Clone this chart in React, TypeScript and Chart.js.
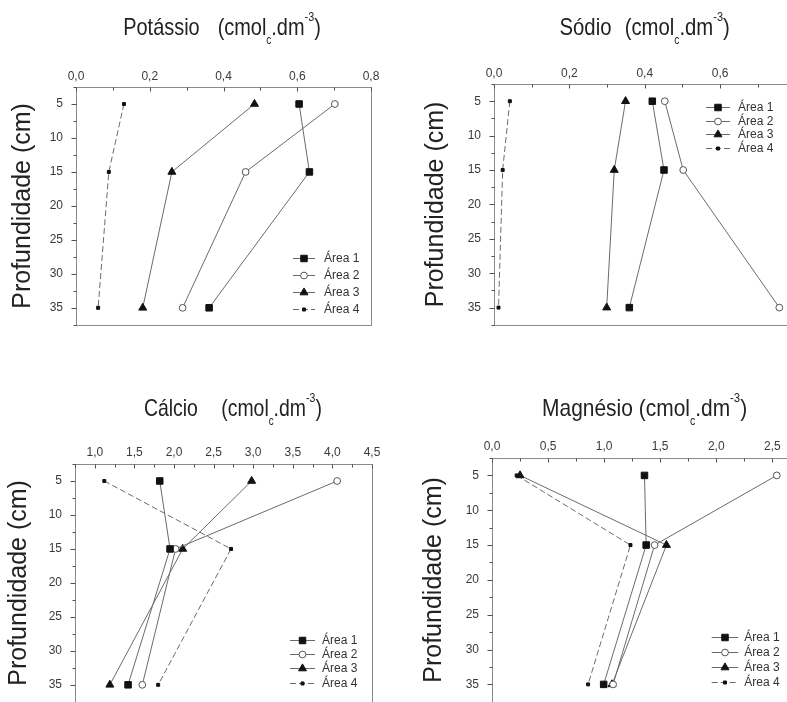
import React, { useEffect, useRef } from 'react';
import { Chart, registerables } from 'chart.js';

Chart.register(...registerables);

const FONT = '"Liberation Sans", Arial, Helvetica, sans-serif';

// ---------- data ----------
const depths = [5, 15, 35];
const areaNames = ['Área 1', 'Área 2', 'Área 3', 'Área 4'];
const depthTickLabels = [5, 10, 15, 20, 25, 30, 35];

const potassioArea1 = [0.605, 0.633, 0.361];
const potassioArea2 = [0.702, 0.46, 0.289];
const potassioArea3 = [0.484, 0.26, 0.181];
const potassioArea4 = [0.13, 0.089, 0.06];
const potassioTicks = [0, 0.2, 0.4, 0.6, 0.8];

const sodioArea1 = [0.42, 0.451, 0.359];
const sodioArea2 = [0.453, 0.502, 0.757];
const sodioArea3 = [0.349, 0.319, 0.299];
const sodioArea4 = [0.042, 0.023, 0.012];
const sodioTicks = [0, 0.2, 0.4, 0.6];

const calcioArea1 = [1.82, 1.95, 1.42];
const calcioArea2 = [4.06, 2.02, 1.6];
const calcioArea3 = [2.98, 2.11, 1.19];
const calcioArea4 = [1.12, 2.72, 1.8];
const calcioTicks = [1.0, 1.5, 2.0, 2.5, 3.0, 3.5, 4.0, 4.5];

const magnesioArea1 = [1.36, 1.375, 0.996];
const magnesioArea2 = [2.54, 1.45, 1.08];
const magnesioArea3 = [0.25, 1.556, 1.07];
const magnesioArea4 = [0.22, 1.235, 0.857];
const magnesioTicks = [0, 0.5, 1.0, 1.5, 2.0, 2.5];

// ---------- styles ----------
const LINE_COLOR = '#6b6b6b';
const seriesStyles = [
  { shape: 'rect', radius: 4.6, fill: '#111', stroke: '#111', dash: [] as number[] },
  { shape: 'circle', radius: 3.4, fill: '#fff', stroke: '#555', dash: [] as number[] },
  { shape: 'triangle', radius: 4.6, fill: '#111', stroke: '#111', dash: [] as number[] },
  { shape: 'rect', radius: 2.1, fill: '#111', stroke: '#111', dash: [6, 3] },
];

const panels = [
  {
    name: 'Potássio',
    series: [potassioArea1, potassioArea2, potassioArea3, potassioArea4],
    xTicks: potassioTicks, xMin: 0, xMax: 0.8, xStep: 0.1,
    canvas: { left: 0, top: 40, width: 393, height: 305 },
    yAxisWidth: 76, xAxisHeight: 47, padRight: 22, padBottom: 19, yTitlePad: 8, xLabelPad: 3,
    legend: { x: 293, y: 217.7, dy: 17.1, len: 22, gap: 9 },
    title: { cx: 222.2, top: 12.7, scale: 0.83, gap: 21.7 },
  },
  {
    name: 'Sódio',
    series: [sodioArea1, sodioArea2, sodioArea3, sodioArea4],
    xTicks: sodioTicks, xMin: 0, xMax: 0.78, xStep: 0.1,
    canvas: { left: 393, top: 40, width: 420, height: 305 },
    yAxisWidth: 101, xAxisHeight: 44, padRight: 25, padBottom: 20, yTitlePad: 28, xLabelPad: 3,
    legend: { x: 313, y: 67.3, dy: 13.5, len: 24, gap: 8 },
    title: { cx: 644.2, top: 12.7, scale: 0.846, gap: 15.7 },
  },
  {
    name: 'Cálcio',
    series: [calcioArea1, calcioArea2, calcioArea3, calcioArea4],
    xTicks: calcioTicks, xMin: 0.75, xMax: 4.5, xStep: 0.25,
    canvas: { left: 0, top: 420, width: 393, height: 302 },
    yAxisWidth: 75, xAxisHeight: 44, padRight: 21, padBottom: 19, yTitlePad: 4, xLabelPad: 4,
    legend: { x: 290, y: 220, dy: 14.2, len: 25, gap: 7 },
    title: { cx: 233, top: 393.7, scale: 0.81, gap: 28.8 },
  },
  {
    name: 'Magnésio',
    series: [magnesioArea1, magnesioArea2, magnesioArea3, magnesioArea4],
    xTicks: magnesioTicks, xMin: 0, xMax: 2.64, xStep: 0.25,
    canvas: { left: 393, top: 420, width: 420, height: 302 },
    yAxisWidth: 99, xAxisHeight: 38, padRight: 25, padBottom: 19, yTitlePad: 26, xLabelPad: 4,
    legend: { x: 318.7, y: 217.3, dy: 14.8, len: 26.6, gap: 6 },
    title: { cx: 645, top: 393.7, scale: 0.872, gap: 6.9 },
  },
];

type PanelCfg = typeof panels[number];

const near = (a: number, b: number) => Math.abs(a - b) < 1e-6;
const fmt = (v: number) => v.toFixed(1).replace('.', ',');

// tick positions (axis grid steps, not data)
function stepValues(min: number, max: number, step: number) {
  const out: number[] = [];
  const n = Math.floor((max - min) / step + 1e-6);
  for (let i = 0; i <= n; i++) out.push(Math.round((min + i * step) * 1e6) / 1e6);
  return out;
}

function drawMarker(ctx: CanvasRenderingContext2D, shape: string, x: number, y: number, r: number, fill: string, stroke: string) {
  ctx.save();
  ctx.setLineDash([]);
  ctx.beginPath();
  if (shape === 'rect') {
    const s = r * Math.SQRT1_2;
    ctx.rect(x - s, y - s, 2 * s, 2 * s);
  } else if (shape === 'circle') {
    ctx.arc(x, y, r, 0, Math.PI * 2);
  } else {
    ctx.moveTo(x, y - r);
    ctx.lineTo(x + r * Math.sin((2 * Math.PI) / 3), y - r * Math.cos((2 * Math.PI) / 3));
    ctx.lineTo(x + r * Math.sin((4 * Math.PI) / 3), y - r * Math.cos((4 * Math.PI) / 3));
    ctx.closePath();
  }
  ctx.fillStyle = fill;
  ctx.fill();
  ctx.lineWidth = 1;
  ctx.strokeStyle = stroke;
  ctx.stroke();
  ctx.restore();
}

function makePlugin(p: PanelCfg) {
  return {
    id: 'frameAndLegend',
    beforeDatasetsDraw(chart: any) {
      const { ctx, chartArea } = chart;
      const xs = chart.scales.x;
      const ys = chart.scales.y;
      const l = Math.round(chartArea.left) + 0.5;
      const t = Math.round(chartArea.top) + 0.5;
      const r = Math.round(chartArea.right) + 0.5;
      const b = Math.round(chartArea.bottom) + 0.5;
      ctx.save();
      ctx.lineWidth = 1;
      ctx.strokeStyle = '#8a8a8a';
      ctx.strokeRect(l, t, r - l, b - t);
      ctx.strokeStyle = '#505050';
      ctx.beginPath();
      xs.ticks.forEach((tk: any) => {
        const v = tk.value;
        const major = p.xTicks.some((m) => near(m, v));
        const px = Math.round(xs.getPixelForValue(v)) + 0.5;
        ctx.moveTo(px, t);
        ctx.lineTo(px, t + (major ? 4 : 3));
      });
      ys.ticks.forEach((tk: any) => {
        const v = tk.value;
        const major = depthTickLabels.some((m) => near(m, v));
        const py = Math.round(ys.getPixelForValue(v)) + 0.5;
        ctx.moveTo(l - (major ? 5 : 3), py);
        ctx.lineTo(l, py);
      });
      ctx.stroke();
      ctx.restore();
    },
    afterDatasetsDraw(chart: any) {
      const { ctx } = chart;
      const lg = p.legend;
      ctx.save();
      areaNames.forEach((name, i) => {
        const st = seriesStyles[i];
        const y = Math.round(lg.y + i * lg.dy) + 0.5;
        ctx.beginPath();
        ctx.setLineDash(st.dash);
        ctx.strokeStyle = LINE_COLOR;
        ctx.lineWidth = 1;
        ctx.moveTo(lg.x, y);
        ctx.lineTo(lg.x + lg.len, y);
        ctx.stroke();
        drawMarker(ctx, st.shape, lg.x + lg.len / 2, y, st.radius, st.fill, st.stroke);
        ctx.setLineDash([]);
        ctx.fillStyle = '#333';
        ctx.font = `12px ${FONT}`;
        ctx.textBaseline = 'middle';
        ctx.textAlign = 'left';
        ctx.fillText(name, lg.x + lg.len + lg.gap, y);
      });
      ctx.restore();
    },
  };
}

function Panel({ p }: { p: PanelCfg }) {
  const ref = useRef<HTMLCanvasElement | null>(null);
  useEffect(() => {
    if (!ref.current) return;
    const xTickValues = stepValues(p.xMin, p.xMax, p.xStep);
    const yTickValues = stepValues(2.5, 37.5, 2.5);
    const chart = new Chart(ref.current, {
      type: 'scatter',
      data: {
        datasets: p.series.map((vals, i) => {
          const st = seriesStyles[i];
          return {
            label: areaNames[i],
            data: vals.map((v, j) => ({ x: v, y: depths[j] })),
            showLine: true,
            borderColor: LINE_COLOR,
            borderWidth: 1,
            borderDash: st.dash,
            pointStyle: st.shape as any,
            pointRadius: st.radius,
            pointHoverRadius: st.radius,
            pointBackgroundColor: st.fill,
            pointBorderColor: st.stroke,
            pointBorderWidth: 1,
            clip: 8,
          };
        }),
      },
      options: {
        responsive: false,
        animation: false,
        devicePixelRatio: 1,
        events: [],
        layout: { padding: { left: 0, top: 0, right: p.padRight, bottom: p.padBottom } },
        plugins: { legend: { display: false }, tooltip: { enabled: false } },
        scales: {
          x: {
            type: 'linear',
            position: 'top',
            min: p.xMin,
            max: p.xMax,
            afterBuildTicks: (s: any) => { s.ticks = xTickValues.map((v) => ({ value: v })); },
            afterFit: (s: any) => { s.height = p.xAxisHeight; },
            grid: { display: false, drawTicks: false },
            border: { display: false },
            ticks: {
              autoSkip: false,
              maxRotation: 0,
              minRotation: 0,
              padding: p.xLabelPad,
              color: '#3a3a3a',
              font: { family: FONT, size: 12 },
              callback: (v: any) => {
                const n = Number(v);
                return p.xTicks.some((m) => near(m, n)) ? fmt(n) : '';
              },
            },
          },
          y: {
            type: 'linear',
            reverse: true,
            min: 2.5,
            max: 37.5,
            afterBuildTicks: (s: any) => { s.ticks = yTickValues.map((v) => ({ value: v })); },
            afterFit: (s: any) => { s.width = p.yAxisWidth; },
            grid: { display: false, drawTicks: false },
            border: { display: false },
            ticks: {
              autoSkip: false,
              padding: 13,
              color: '#3a3a3a',
              font: { family: FONT, size: 12 },
              callback: (v: any) => {
                const n = Number(v);
                return depthTickLabels.some((m) => near(m, n)) ? String(Math.round(n)) : '';
              },
            },
            title: {
              display: true,
              text: 'Profundidade (cm)',
              color: '#222',
              font: { family: FONT, size: 25 },
              padding: { top: p.yTitlePad, bottom: 0 },
            },
          },
        },
      },
      plugins: [makePlugin(p)],
    } as any);
    return () => chart.destroy();
  }, [p]);

  const t = p.title;
  return (
    <>
      <canvas
        ref={ref}
        width={p.canvas.width}
        height={p.canvas.height}
        style={{ position: 'absolute', left: p.canvas.left, top: p.canvas.top, width: p.canvas.width, height: p.canvas.height }}
      />
      <div
        style={{
          position: 'absolute', left: t.cx - 200, top: t.top, width: 400, textAlign: 'center',
          fontFamily: FONT, fontSize: 24, lineHeight: '28px', color: '#222', whiteSpace: 'nowrap',
        }}
      >
        <span style={{ display: 'inline-block', transform: `scaleX(${t.scale})` }}>
          {p.name}
          <span style={{ display: 'inline-block', width: t.gap }} />
          (cmol
          <span style={{ fontSize: 12, position: 'relative', top: 9 }}>c</span>
          .dm
          <span style={{ fontSize: 13, position: 'relative', top: -14 }}>-3</span>
          )
        </span>
      </div>
    </>
  );
}

export default function App() {
  return (
    <div
      style={{
        position: 'fixed', left: 0, top: 0, width: 787, height: 702, overflow: 'hidden',
        background: '#fff', fontFamily: FONT,
      }}
    >
      {panels.map((p) => (
        <Panel key={p.name} p={p} />
      ))}
    </div>
  );
}
